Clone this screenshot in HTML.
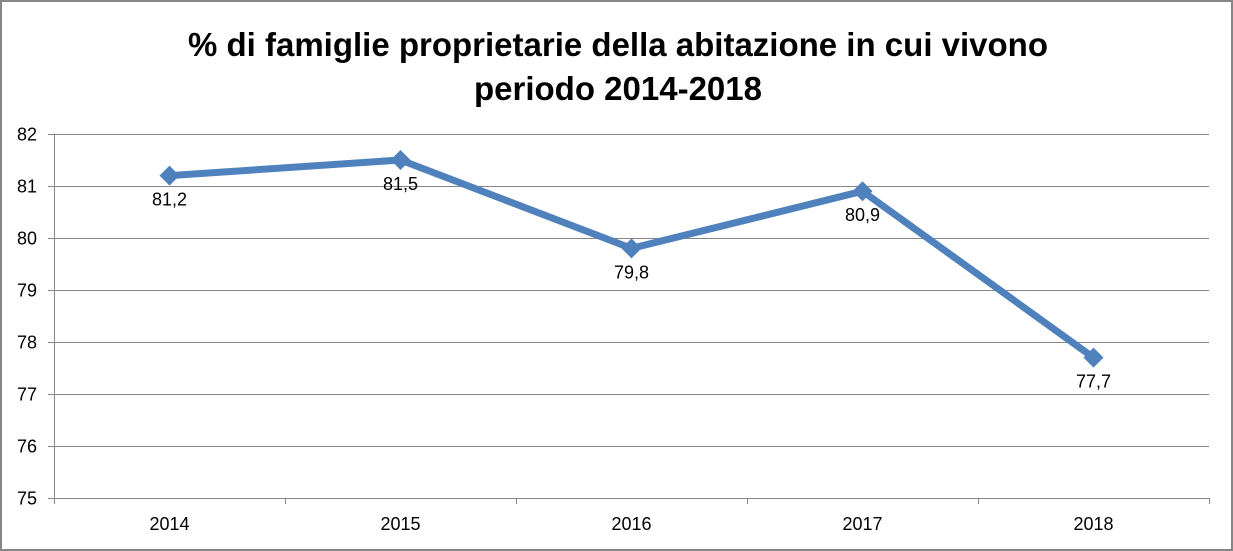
<!DOCTYPE html>
<html><head><meta charset="utf-8"><style>
html,body{margin:0;padding:0;background:#fff;}
svg{display:block;font-family:"Liberation Sans",Calibri,sans-serif;}
</style></head><body>
<svg id="chart" width="1233" height="551" xmlns="http://www.w3.org/2000/svg">
<rect x="1" y="1" width="1231" height="549" fill="#fff" stroke="#868686" stroke-width="2"/>
<text x="618" y="56" text-anchor="middle" font-size="33" font-weight="bold" fill="#000">% di famiglie proprietarie della abitazione in cui vivono</text>
<text x="618" y="100" text-anchor="middle" font-size="33" font-weight="bold" fill="#000">periodo 2014-2018</text>
<g id="grid"></g><g id="axes"></g><g id="series"></g>
</svg>
<script>
const categories=["2014","2015","2016","2017","2018"];
const values=[81.2,81.5,79.8,80.9,77.7];
const labels=["81,2","81,5","79,8","80,9","77,7"];
const yTicks=[75,76,77,78,79,80,81,82];
const NS="http://www.w3.org/2000/svg";
const x0=54,x1=1209,yTop=134,yBot=498,yMin=75,yMax=82;
const bw=(x1-x0)/categories.length;
const xS=i=>x0+bw*(i+0.5);
const yS=v=>yBot-(v-yMin)/(yMax-yMin)*(yBot-yTop);
function mk(t,a,p){const e=document.createElementNS(NS,t);for(const k in a)e.setAttribute(k,a[k]);p.appendChild(e);return e;}
const grid=document.getElementById('grid'),axes=document.getElementById('axes'),ser=document.getElementById('series');
yTicks.forEach(v=>{
 const y=Math.round(yS(v))+0.5;
 const l=mk('line',{x1:x0-6,x2:x1,y1:y,y2:y,stroke:'#868686','stroke-width':1},grid);
 
 
 const t=mk('text',{x:37,y:y+6,'text-anchor':'end','font-size':18,fill:'#000'},axes);
 t.textContent=v;
 
 
});
const ya=mk('line',{x1:x0+0.5,x2:x0+0.5,y1:yTop,y2:yBot+6,stroke:'#868686'},axes);


for(let i=0;i<=categories.length;i++){
 const x=Math.round(x0+bw*i)+0.5;
 const tk=mk('line',{x1:x,x2:x,y1:yBot,y2:yBot+6,stroke:'#868686'},axes);
 
 
}
categories.forEach((c,i)=>{
 const t=mk('text',{x:xS(i),y:530,'text-anchor':'middle','font-size':18,fill:'#000'},axes);
 t.textContent=c;
 
 
});
const pts=values.map((v,i)=>xS(i)+','+yS(v)).join(' ');
const pl=mk('polyline',{points:pts,fill:'none',stroke:'#4f81bd','stroke-width':7,'stroke-linejoin':'round'},ser);


values.forEach((v,i)=>{
 const x=xS(i),y=yS(v),r=10;
 const m=mk('polygon',{points:`${x},${y-r} ${x+r},${y} ${x},${y+r} ${x-r},${y}`,fill:'#4f81bd'},ser);
 
 
 const t=mk('text',{x:x,y:y+30,'text-anchor':'middle','font-size':18,fill:'#000'},ser);
 t.textContent=labels[i];
 
 
});
</script>
</body></html>
